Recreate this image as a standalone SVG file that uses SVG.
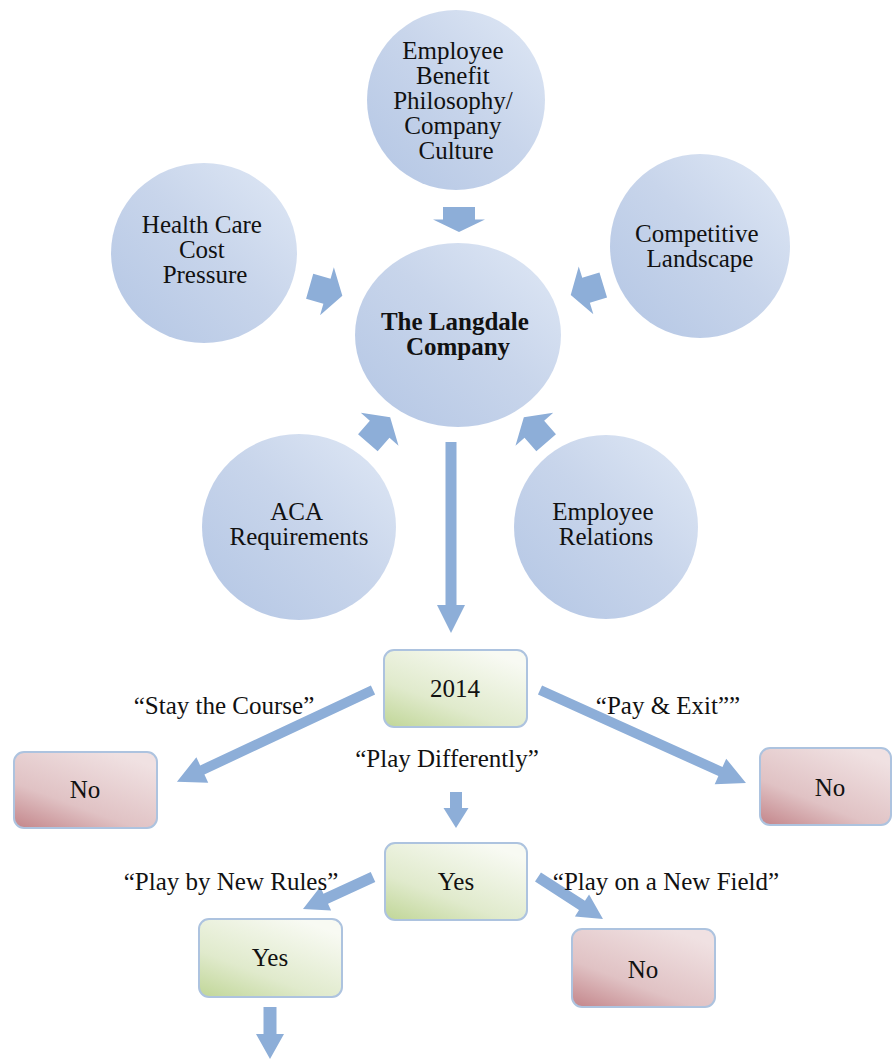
<svg xmlns="http://www.w3.org/2000/svg" width="893" height="1059" viewBox="0 0 893 1059">
  <defs>
    <linearGradient id="gCircle" x1="0.15" y1="0.85" x2="0.85" y2="0.15">
      <stop offset="0" stop-color="#b9cae6"/>
      <stop offset="0.55" stop-color="#c8d5eb"/>
      <stop offset="1" stop-color="#d8e2f2"/>
    </linearGradient>
    <linearGradient id="gGreen" x1="0" y1="1" x2="0.7" y2="0">
      <stop offset="0" stop-color="#c0d697"/>
      <stop offset="0.4" stop-color="#e0eacc"/>
      <stop offset="1" stop-color="#f8faf3"/>
    </linearGradient>
    <linearGradient id="gRed" x1="0" y1="1" x2="0.7" y2="0">
      <stop offset="0" stop-color="#c3858a"/>
      <stop offset="0.4" stop-color="#e0c2c4"/>
      <stop offset="1" stop-color="#f0e1e2"/>
    </linearGradient>
    <!-- chunky radial arrow, pointing along +x, centred on the origin -->
    <path id="radial" d="M-17,-13 H1 V-25 L17,0 L1,25 V13 H-17 Z"/>
    <path id="radialShort" d="M-12.5,-16 H0 V-26 L12.5,0 L0,26 V16 H-12.5 Z"/>
  </defs>
  <style>
    .bubble { fill: url(#gCircle); }
    .box { stroke: #adc3df; stroke-width: 2; }
    .yes { fill: url(#gGreen); }
    .no { fill: url(#gRed); }
    .arrow { fill: #8daed8; }
    text { font-family: "Liberation Serif", "Times New Roman", serif; font-size: 25px; fill: #111; text-anchor: middle; }
    .bold { font-weight: bold; }
  </style>

  <rect width="893" height="1059" fill="#ffffff"/>

  <!-- influence bubbles -->
  <g id="benefit-philosophy">
    <ellipse class="bubble" cx="456" cy="100" rx="89" ry="90"/>
    <text>
      <tspan x="456" y="59">Employee</tspan>
      <tspan x="456" y="84">Benefit</tspan>
      <tspan x="456" y="109">Philosophy/</tspan>
      <tspan x="456" y="134">Company</tspan>
      <tspan x="456" y="159">Culture</tspan>
    </text>
  </g>
  <g id="health-care-cost">
    <ellipse class="bubble" cx="204" cy="253" rx="93" ry="90"/>
    <text>
      <tspan x="205" y="233">Health Care</tspan>
      <tspan x="205" y="258">Cost</tspan>
      <tspan x="205" y="283">Pressure</tspan>
    </text>
  </g>
  <g id="competitive-landscape">
    <ellipse class="bubble" cx="700" cy="246" rx="90" ry="92"/>
    <text>
      <tspan x="700" y="242">Competitive</tspan>
      <tspan x="700" y="267">Landscape</tspan>
    </text>
  </g>
  <g id="langdale">
    <ellipse class="bubble" cx="458" cy="335" rx="103" ry="92"/>
    <text class="bold">
      <tspan x="458" y="330">The Langdale</tspan>
      <tspan x="458" y="355">Company</tspan>
    </text>
  </g>
  <g id="aca-requirements">
    <ellipse class="bubble" cx="299" cy="527" rx="97" ry="93"/>
    <text>
      <tspan x="299" y="520">ACA</tspan>
      <tspan x="299" y="545">Requirements</tspan>
    </text>
  </g>
  <g id="employee-relations">
    <ellipse class="bubble" cx="606" cy="527" rx="92" ry="92"/>
    <text>
      <tspan x="606" y="520">Employee</tspan>
      <tspan x="606" y="545">Relations</tspan>
    </text>
  </g>

  <!-- decision boxes -->
  <g id="year-2014">
    <rect class="box yes" x="384" y="650" width="143" height="77" rx="10"/>
    <text x="455" y="697">2014</text>
  </g>
  <g id="stay-no">
    <rect class="box no" x="14" y="752" width="143" height="76" rx="10"/>
    <text x="85" y="798">No</text>
  </g>
  <g id="exit-no">
    <rect class="box no" x="760" y="748" width="131" height="77" rx="10"/>
    <text x="830" y="796">No</text>
  </g>
  <g id="differently-yes">
    <rect class="box yes" x="385" y="843" width="142" height="77" rx="10"/>
    <text x="456" y="890">Yes</text>
  </g>
  <g id="new-rules-yes">
    <rect class="box yes" x="199" y="919" width="143" height="78" rx="10"/>
    <text x="270" y="966">Yes</text>
  </g>
  <g id="new-field-no">
    <rect class="box no" x="572" y="929" width="143" height="78" rx="10"/>
    <text x="643" y="978">No</text>
  </g>

  <!-- connectors -->
  <g id="connectors" class="arrow">
    <use href="#radialShort" transform="translate(459,219.5) rotate(90)"/>
    <use href="#radial" transform="translate(326,291) rotate(16)"/>
    <use href="#radial" transform="translate(587,290) rotate(163)"/>
    <use href="#radial" transform="translate(379,430) rotate(-49)"/>
    <use href="#radial" transform="translate(535,430) rotate(-131)"/>

    <path d="M0,-5.5 H163 V-14 L191,0 L163,14 V5.5 H0 Z" transform="translate(451,442) rotate(90)"/>
    <path d="M0,-5 H188.5 V-14 L216.5,0 L188.5,14 V5 H0 Z" transform="translate(373,690) rotate(154.9)"/>
    <path d="M0,-5 H198 V-14 L226,0 L198,14 V5 H0 Z" transform="translate(540,690) rotate(24.3)"/>
    <path d="M0,-6 H16 V-12.5 L36,0 L16,12.5 V6 H0 Z" transform="translate(456,792) rotate(90)"/>
    <path d="M0,-5.5 H52 V-13 L77,0 L52,13 V5.5 H0 Z" transform="translate(373,877) rotate(155.4)"/>
    <path d="M0,-5.5 H52.4 V-13 L77.4,0 L52.4,13 V5.5 H0 Z" transform="translate(538,877) rotate(32.9)"/>
    <path d="M0,-6.5 H27 V-14 L52,0 L27,14 V6.5 H0 Z" transform="translate(270,1007) rotate(90)"/>
  </g>

  <!-- branch labels -->
  <g id="labels">
    <text x="224" y="714">“Stay the Course”</text>
    <text x="668" y="714">“Pay &amp; Exit””</text>
    <text x="447" y="767">“Play Differently”</text>
    <text x="231" y="890">“Play by New Rules”</text>
    <text x="666" y="890">“Play on a New Field”</text>
  </g>
</svg>
